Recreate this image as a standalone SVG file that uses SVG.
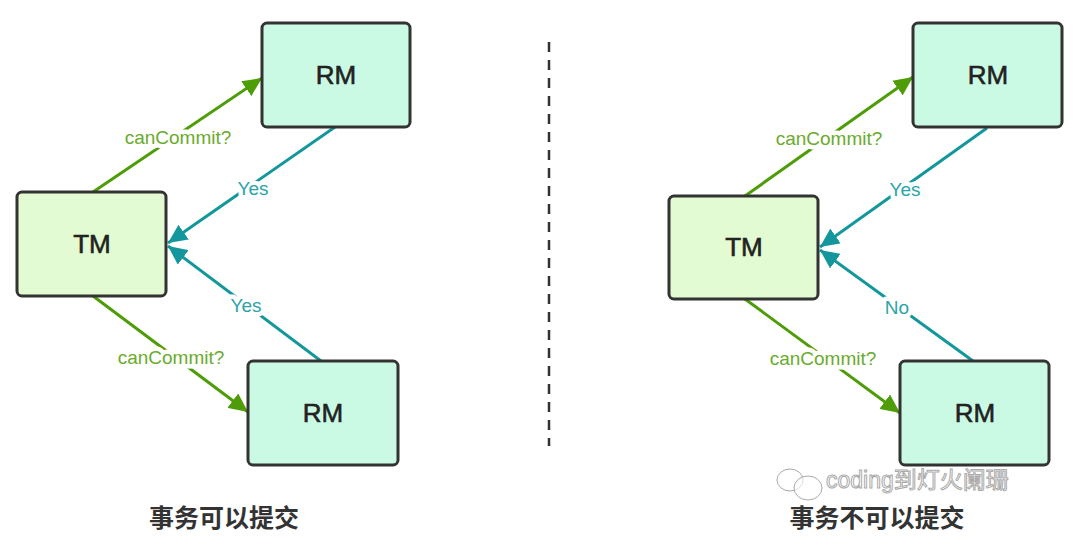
<svg xmlns="http://www.w3.org/2000/svg" width="1080" height="546" viewBox="0 0 1080 546">
<defs>
<style>
.node rect{stroke:#333;stroke-width:3}
.rm rect{fill:#cbfae4}
.tm rect{fill:#e2fbd2}
.node text{font-family:"Liberation Sans","Noto Sans",sans-serif;font-size:26px;fill:#222;stroke:#222;stroke-width:0.6;text-anchor:middle}
.g{stroke:#4e9c08;stroke-width:3;fill:none;marker-end:url(#ag)}
.t{stroke:#14979c;stroke-width:3;fill:none;marker-end:url(#at)}
.lbl{font-family:"Liberation Sans","Noto Sans",sans-serif;font-size:19px;text-anchor:middle;stroke:#fff;stroke-width:9;stroke-linejoin:round;paint-order:stroke}
.lg{fill:#6aab2e}
.lt{fill:#2aa4a9}
.title{font-family:"Noto Sans CJK SC",sans-serif;font-weight:bold;font-size:25px;fill:#333;text-anchor:middle}
.wm{font-family:"Liberation Sans","Noto Sans CJK SC",sans-serif;font-size:23px;fill:#fff;fill-opacity:0.6;stroke:#aaa;stroke-width:1}
</style>
<marker id="ag" markerUnits="userSpaceOnUse" markerWidth="20" markerHeight="18" refX="19" refY="9" orient="auto"><path d="M0,0 L19,9 L0,18 z" fill="#4e9c08"/></marker>
<marker id="at" markerUnits="userSpaceOnUse" markerWidth="20" markerHeight="18" refX="19" refY="9" orient="auto"><path d="M0,0 L19,9 L0,18 z" fill="#14979c"/></marker>
</defs>
<g id="connectors">
<line class="g" x1="93" y1="192" x2="262" y2="78"/>
<line class="t" x1="335" y1="127" x2="168" y2="243"/>
<line class="t" x1="321" y1="361" x2="168" y2="246"/>
<line class="g" x1="93" y1="296" x2="248" y2="412"/>
<line class="g" x1="745" y1="196" x2="913" y2="77"/>
<line class="t" x1="987" y1="128" x2="820" y2="247"/>
<line class="t" x1="973" y1="361" x2="820" y2="250"/>
<line class="g" x1="745" y1="299" x2="900" y2="413"/>
<line x1="549" y1="42" x2="549" y2="446" stroke="#333" stroke-width="2.5" stroke-dasharray="10,8"/>
</g>
<g id="labels">
<text class="lbl lg" x="178" y="144">canCommit?</text>
<text class="lbl lt" x="253" y="195">Yes</text>
<text class="lbl lt" x="246" y="312">Yes</text>
<text class="lbl lg" x="171" y="364">canCommit?</text>
<text class="lbl lg" x="829" y="145">canCommit?</text>
<text class="lbl lt" x="905" y="196">Yes</text>
<text class="lbl lt" x="897" y="314">No</text>
<text class="lbl lg" x="823" y="365">canCommit?</text>
</g>
<g id="rm1" class="node rm"><rect x="262" y="23" width="148" height="104" rx="5"/><text x="336" y="84">RM</text></g>
<g id="tm1" class="node tm"><rect x="17" y="192" width="149" height="104" rx="5"/><text x="92" y="253">TM</text></g>
<g id="rm2" class="node rm"><rect x="248" y="361" width="150" height="104" rx="5"/><text x="323" y="422">RM</text></g>
<g id="rm3" class="node rm"><rect x="913" y="23" width="149" height="104" rx="5"/><text x="988" y="84">RM</text></g>
<g id="tm2" class="node tm"><rect x="669" y="196" width="149" height="103" rx="5"/><text x="744" y="256">TM</text></g>
<g id="rm4" class="node rm"><rect x="900" y="361" width="149" height="104" rx="5"/><text x="975" y="422">RM</text></g>
<text class="title" x="224" y="527">事务可以提交</text>
<text class="title" x="877" y="527">事务不可以提交</text>
<g id="watermark" fill="#fff" fill-opacity="0.6" stroke="#aaa" stroke-width="1">
<ellipse cx="790" cy="480" rx="13" ry="11"/>
<ellipse cx="808" cy="488" rx="14" ry="12"/>
</g>
<text class="wm" x="826" y="488">coding到灯火阑珊</text>
</svg>
